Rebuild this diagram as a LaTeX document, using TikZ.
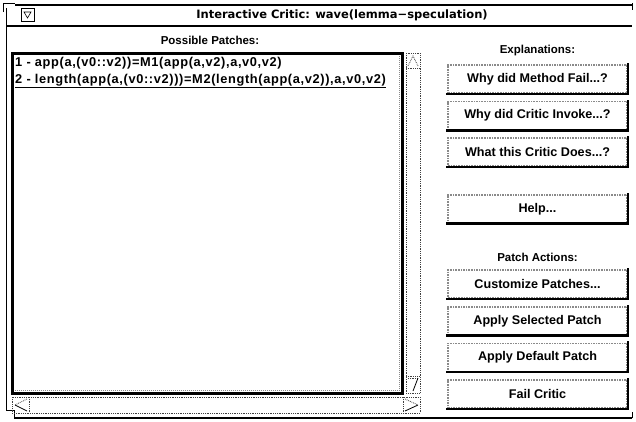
\documentclass[tikz,border=0pt]{standalone}
\usepackage{fontspec}
\setmainfont{Liberation Sans}
\newfontfamily\titlefont{DejaVu Sans}
\newfontfamily\listfont[LetterSpace=5]{Liberation Sans}
\usetikzlibrary{positioning}
\definecolor{shadeGray}{HTML}{8A8A8A}

\tikzset{
  critbtn/.style={draw=shadeGray, line width=1.6pt, densely dotted, fill=white,
    minimum width=179pt, minimum height=28pt, inner sep=0pt,
    font=\bfseries\fontsize{12.6}{14}\selectfont},
  heading/.style={inner sep=0pt, font=\bfseries\fontsize{11.5}{13}\selectfont},
  listrow/.style={anchor=west, inner sep=0pt, font=\listfont\bfseries\fontsize{12.8}{14}\selectfont},
  btnshade/.style={line width=2.4pt, line cap=rect},
  sbar/.style={draw=black!75, densely dotted, line width=0.8pt},
}
\newcommand\btnshadow[1]{\draw[btnshade] (#1.south west) -- (#1.south east) -- (#1.north east);}

\begin{document}
\begin{tikzpicture}[x=1pt, y=-1pt]
    \useasboundingbox (0,0) rectangle (636,421);
    \fill[white] (0,0) rectangle (636,421);

    % window frame
    \draw[line width=0.8pt] (3,12) -- (3,3) -- (15,3);
    \draw[line width=2pt] (15,5) -- (632,5);
    \draw[line width=0.8pt] (632,3) -- (632,10);
    \draw[line width=0.8pt] (6,8) -- (6,410) -- (14,410) -- (14,418);
    \draw[line width=1.4pt] (14,418) -- (632,418);
    \draw[line width=0.8pt] (632,418) -- (632,412);
    \draw[line width=2pt] (6,26) -- (632,26);

    % title bar
    \node[draw, line width=0.8pt, minimum size=13pt, inner sep=0pt] (menu) at (27.5,14.5) {};
    \draw[line width=0.6pt] ([shift={(-3.5pt,2.5pt)}]menu.center) -- ([shift={(3.5pt,2.5pt)}]menu.center)
      -- ([shift={(0pt,-3.5pt)}]menu.center) -- cycle;
    \node[inner sep=0pt, font=\titlefont\bfseries\fontsize{11.5}{13}\selectfont] (title) at (342,15)
      {Interactive Critic: wave(lemma−speculation)};

    % list of patches
    \node[heading] (possible) at (210,40) {Possible Patches:};
    \draw[line width=3pt] (12,53) rectangle (402,393);
    \draw[shadeGray, densely dotted, line width=1pt] (14.5,390) -- (399.5,390) -- (399.5,55.5);
    \node[listrow] (patchA) at (15,63) {1 - app(a,(v0::v2))=M1(app(a,v2),a,v0,v2)};
    \node[listrow] (patchB) at (15,80) {2 - length(app(a,(v0::v2)))=M2(length(app(a,v2)),a,v0,v2)};
    \draw[line width=0.8pt] ([yshift=-1.5pt]patchB.south west) -- ([yshift=-1.5pt]patchB.south east);

    % scrollbars
    \draw[sbar] (406,53) rectangle (420,393);
    \draw[sbar] (406,68) -- (420,68);
    \draw[sbar] (408,66) -- (413,56) -- (418,66);
    \draw[sbar] (406,376) -- (420,376);
    \draw[sbar] (408,378) -- (418,378);
    \draw[line width=0.8pt] (418,378) -- (413,391);
    \draw[sbar] (12,397) rectangle (420,413);
    \draw[sbar] (29,397) -- (29,413);
    \draw[sbar] (27,399) -- (15,405);
    \draw[line width=0.8pt] (15,405) -- (27,411);
    \draw[sbar] (403,397) -- (403,413);
    \draw[sbar] (405,399) -- (418,405);
    \draw[line width=0.8pt] (418,405) -- (405,411);

    % explanation buttons
    \node[heading] (explain) at (537.5,51) {Explanations:};
    \node[critbtn] (methodfail) at (537.5,79) {Why did Method Fail...?};
    \node[critbtn, below=7pt of methodfail] (criticinvoke) {Why did Critic Invoke...?};
    \node[critbtn, below=7pt of criticinvoke] (criticdoes) {What this Critic Does...?};
    \node[critbtn, below=27pt of criticdoes] (help) {Help...};
    \btnshadow{methodfail}
    \btnshadow{criticinvoke}
    \btnshadow{criticdoes}
    \btnshadow{help}

    % patch action buttons
    \node[heading, below=29pt of help] (actions) {Patch Actions:};
    \node[critbtn, below=8pt of actions] (customize) {Customize Patches...};
    \node[critbtn, below=7pt of customize] (applysel) {Apply Selected Patch};
    \node[critbtn, below=7pt of applysel] (applydef) {Apply Default Patch};
    \node[critbtn, below=7pt of applydef] (failcritic) {Fail Critic};
    \btnshadow{customize}
    \btnshadow{applysel}
    \btnshadow{applydef}
    \btnshadow{failcritic}
\end{tikzpicture}
\end{document}
